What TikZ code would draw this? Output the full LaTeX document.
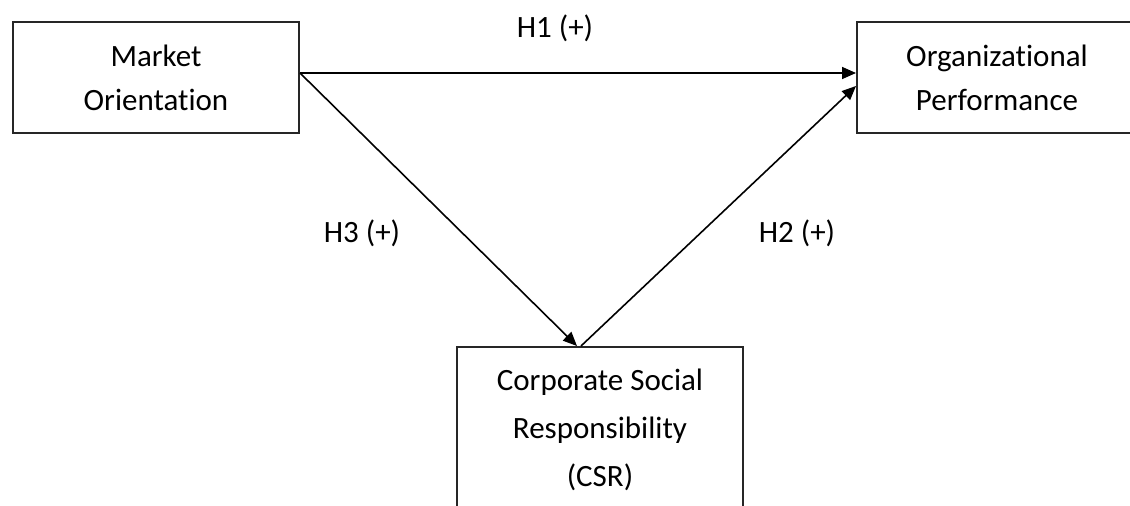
\documentclass[tikz,border=0pt]{standalone}
\usepackage{fontspec}
\setmainfont{Carlito}[Ligatures={NoCommon}]
\usetikzlibrary{arrows.meta}
\begin{document}
\begin{tikzpicture}[x=1pt,y=-1pt,
  box/.style={draw=black!85, line width=2pt, align=center, inner sep=0pt, font=\fontsize{31}{44}\selectfont},
  link/.style={line width=1.6pt, -{Triangle[length=14pt,width=12pt]}},
  hyp/.style={font=\fontsize{31}{37}\selectfont, inner sep=0pt}]
\useasboundingbox (0,0) rectangle (1130,506);
\node [box, minimum width=286pt, minimum height=111pt] (mo) at (156,77.5) {Market\\Orientation};
\node [box, minimum width=280pt, minimum height=111pt] (op) at (997,77.5) {Organizational\\Performance};
\node [box, minimum width=286pt, minimum height=165pt, font=\fontsize{31}{48}\selectfont] (csr) at (600,429.5) {Corporate Social\\Responsibility\\(CSR)};
\draw [link] ([yshift=4.5pt]mo.east) -- ([yshift=4.5pt]op.west);
\draw [link] ([yshift=4.5pt]mo.east) -- ([xshift=-23pt]csr.north);
\draw [link] ([xshift=-19pt]csr.north) -- ([yshift=-8.5pt]op.west);
\node [hyp] (h1) at (555,28.5) {H1 (+)};
\node [hyp] (h3) at (362,233) {H3 (+)};
\node [hyp] (h2) at (797,233) {H2 (+)};
\end{tikzpicture}
\end{document}
